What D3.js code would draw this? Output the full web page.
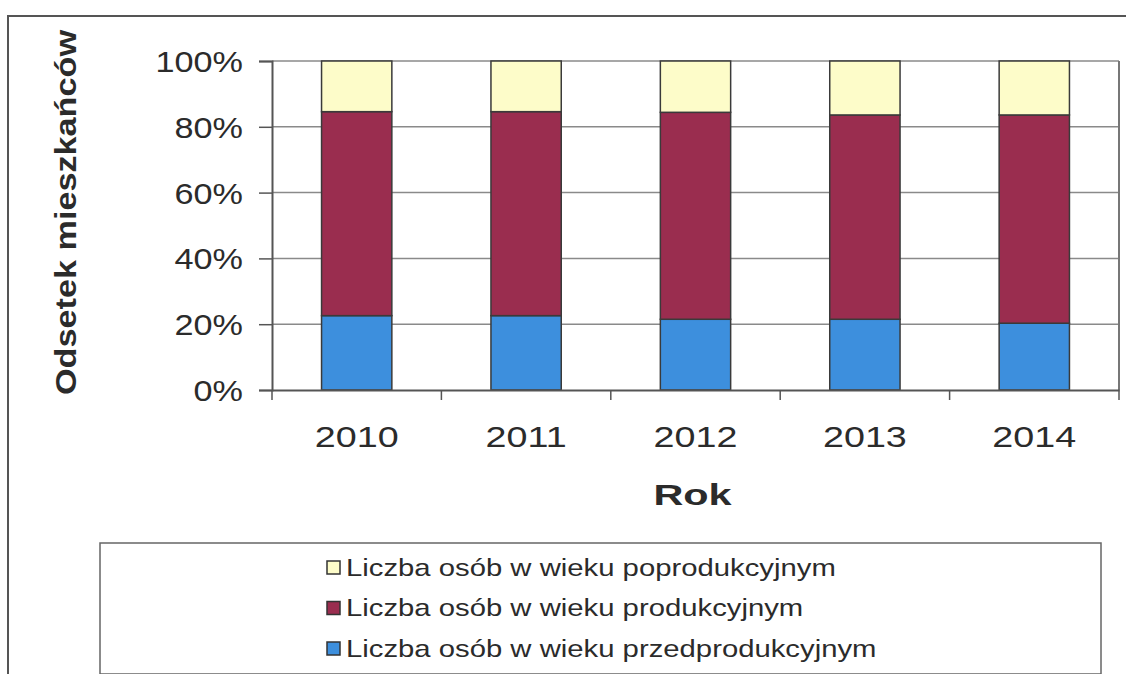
<!DOCTYPE html>
<html>
<head>
<meta charset="utf-8">
<script src="https://cdn.jsdelivr.net/npm/d3@7"></script>
<style>
  body { margin: 0; background: #fff; }
  text { font-family: Arial, "Liberation Sans", sans-serif; fill: #2b2b2b; }
</style>
</head>
<body>
<div id="chart"></div>
<script>
// data (percent of inhabitants)
let years = ["2010", "2011", "2012", "2013", "2014"];
let przed = [22.6, 22.6, 21.5, 21.5, 20.3];
let prod = [62.0, 62.0, 62.9, 62.1, 63.3];
let poprod = [15.4, 15.4, 15.6, 16.4, 16.4];
let yTicks = [0, 20, 40, 60, 80, 100];
let seriesNames = [
  "Liczba osób w wieku poprodukcyjnym",
  "Liczba osób w wieku produkcyjnym",
  "Liczba osób w wieku przedprodukcyjnym",
];

let W = 1126, H = 674;
let margin = { top: 61, left: 272, right: 7, bottom: 284 };
let width = W - margin.left - margin.right;
let height = H - margin.top - margin.bottom;

let colors = { przed: "#3d8fdd", prod: "#9a2d4f", poprod: "#fdfcc9" };

// the scanned original has wide lettering, so text gets a horizontal stretch
let stretch = 1.2;

var svg = d3
  .select("#chart")
  .append("svg")
  .attr("width", W)
  .attr("height", H);

// outer frame
svg.append("rect")
  .attr("x", 8).attr("y", 16)
  .attr("width", 1140).attr("height", 700)
  .attr("fill", "none").attr("stroke", "#555").attr("stroke-width", 2);

let rows = years.map((y, i) => ({ year: y, przed: przed[i], prod: prod[i], poprod: poprod[i] }));
let stack = d3.stack().keys(["przed", "prod", "poprod"]);
let layers = stack(rows);

let x = d3.scaleBand().domain(years).range([0, width]).paddingInner(0.585).paddingOuter(0.2925);
let xb = d3.scaleBand().domain(years).range([0, width]);
let y = d3.scaleLinear().domain([0, 100]).range([height, 0]);

let g = svg.append("g").attr("transform", "translate(" + margin.left + "," + margin.top + ")");

// gridlines
g.append("g")
  .selectAll("line")
  .data(yTicks.slice(1))
  .join("line")
  .attr("x1", 0).attr("x2", width)
  .attr("y1", (d) => y(d)).attr("y2", (d) => y(d))
  .attr("stroke", "#8a8a8a").attr("stroke-width", 1.5);

// right border
g.append("line")
  .attr("x1", width).attr("x2", width).attr("y1", 0).attr("y2", height)
  .attr("stroke", "#777").attr("stroke-width", 2);

// bars
g.selectAll(".layer")
  .data(layers)
  .join("g")
  .attr("class", "layer")
  .attr("fill", (d) => colors[d.key])
  .selectAll("rect")
  .data((d) => d)
  .join("rect")
  .attr("x", (d) => x(d.data.year))
  .attr("width", x.bandwidth())
  .attr("y", (d) => y(d[1]))
  .attr("height", (d) => y(d[0]) - y(d[1]))
  .attr("stroke", "#3a3a3a")
  .attr("stroke-width", 1.5);

// y axis
let yAxis = g.append("g")
  .call(d3.axisLeft(y).tickValues(yTicks).tickFormat((d) => d + "%").tickSize(13));
yAxis.select(".domain").attr("stroke", "#555").attr("stroke-width", 2);
yAxis.selectAll(".tick line").attr("stroke", "#555").attr("stroke-width", 1.5);
yAxis.selectAll("text")
  .attr("x", 0)
  .attr("transform", "translate(-29,0) scale(1.18,1)")
  .style("font-size", "29px")
  .attr("fill", "#2b2b2b").attr("dy", "0.36em");

// x axis
let xAxis = g.append("g")
  .attr("transform", "translate(0," + height + ")")
  .call(d3.axisBottom(xb).tickSize(0).tickPadding(36));
xAxis.select(".domain").attr("stroke", "#555").attr("stroke-width", 2);
xAxis.selectAll("text")
  .attr("transform", "scale(1.3,1)")
  .style("font-size", "29px")
  .attr("fill", "#2b2b2b");
// category boundary ticks
xAxis.append("g")
  .selectAll("line")
  .data(years.concat(["end"]))
  .join("line")
  .attr("x1", (d, i) => i * xb.step()).attr("x2", (d, i) => i * xb.step())
  .attr("y1", 0).attr("y2", 10)
  .attr("stroke", "#555").attr("stroke-width", 1.5);

// axis titles
svg.append("text")
  .attr("transform", "translate(" + (margin.left + width / 2 - 3) + ",505) scale(1.38,1)")
  .attr("text-anchor", "middle")
  .style("font-size", "30px")
  .style("font-weight", "bold")
  .text("Rok");

svg.append("text")
  .attr("transform", "translate(76," + (margin.top + height / 2 - 13) + ") rotate(-90) scale(1.18,1)")
  .attr("text-anchor", "middle")
  .style("font-size", "29px")
  .style("font-weight", "bold")
  .text("Odsetek mieszkańców");

// legend
svg.append("rect")
  .attr("x", 100).attr("y", 543)
  .attr("width", 1001).attr("height", 131)
  .attr("fill", "none").attr("stroke", "#666").attr("stroke-width", 1.5);

let legendKeys = ["poprod", "prod", "przed"];
let leg = svg.append("g")
  .selectAll("g")
  .data(legendKeys)
  .join("g")
  .attr("transform", (d, i) => "translate(327," + (567 + i * 40.5) + ")");
leg.append("rect")
  .attr("x", 0).attr("y", -6).attr("width", 13).attr("height", 13)
  .attr("fill", (d) => colors[d]).attr("stroke", "#333").attr("stroke-width", 1.5);
leg.append("text")
  .attr("transform", "translate(19,0) scale(" + (stretch + 0.02) + ",1)")
  .attr("dy", "0.36em")
  .style("font-size", "24px")
  .text((d, i) => seriesNames[i]);
</script>
</body>
</html>
